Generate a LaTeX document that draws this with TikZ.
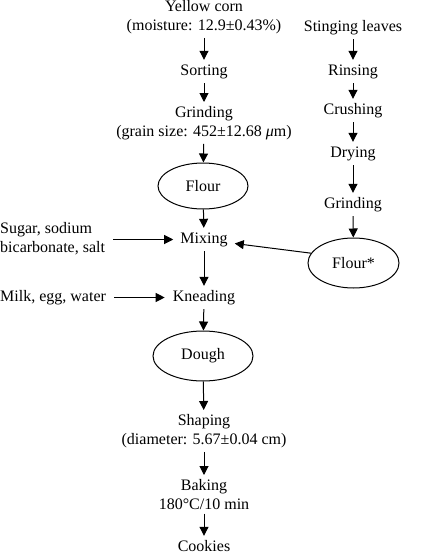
\documentclass[tikz,border=0pt]{standalone}
\usepackage{fontspec}
\setmainfont{Liberation Serif}
\usetikzlibrary{arrows.meta,shapes.geometric}
\begin{document}
\begin{tikzpicture}[x=1pt,y=-1pt,font=\fontsize{16}{19}\selectfont,
  txt/.style={inner sep=0pt,text height=11pt,text depth=4pt},
  txtb/.style={inner sep=0pt,align=center},
  oval/.style={draw,ellipse,line width=1pt,inner sep=0pt},
  arr/.style={-{Triangle[length=9pt,width=9pt]},line width=1pt,shorten <=4pt,shorten >=4pt},
  toov/.style={arr,shorten >=0pt},
  fromov/.style={arr,shorten <=0pt}]
\useasboundingbox (0,0) rectangle (422,554);
% main column
\node[txtb,anchor=north] (corn) at (204,0) {Yellow corn\\(moisture: 12.9±0.43\%)};
\node[txt,anchor=base] (sort) at (204,75) {Sorting};
\node[txtb,anchor=north] (grind) at (204,106) {Grinding\\(grain size: 452±12.68 {\itshape μ}m)};
\node[oval,minimum width=90pt,minimum height=46pt] (flour) at (203,186) {Flour};
\node[txt,anchor=base] (mix) at (204,243) {Mixing};
\node[txtb,align=left,anchor=north west] (sugar) at (0,222) {Sugar, sodium\\bicarbonate, salt};
\node[txt,anchor=base west] (milk) at (0,301) {Milk, egg, water};
\node[txt,anchor=base] (knead) at (204,301) {Kneading};
\node[oval,minimum width=100pt,minimum height=50pt] (dough) at (203,356) {Dough};
\node[txtb,anchor=north] (shape) at (204,414) {Shaping\\(diameter: 5.67±0.04 cm)};
\node[txtb,anchor=north] (bake) at (204,479) {Baking\\180°C/10 min};
\node[txt,anchor=base,text depth=0pt] (cook) at (204,551) {Cookies};
% right column
\node[txt,anchor=base] (sting) at (353,31) {Stinging leaves};
\node[txt,anchor=base] (rinse) at (353,75) {Rinsing};
\node[txt,anchor=base] (crush) at (353,114) {Crushing};
\node[txt,anchor=base] (dry) at (353,157) {Drying};
\node[txt,anchor=base] (grind2) at (353,208) {Grinding};
\node[oval,minimum width=91pt,minimum height=50pt] (flour2) at (353.5,263) {Flour*};
% connectors
\draw[arr] (corn) -- (sort);
\draw[arr] (sort) -- (grind);
\draw[toov] (grind) -- (flour);
\draw[fromov] (flour) -- (mix);
\draw[arr] (mix) -- (knead);
\draw[toov] (knead) -- (dough);
\draw[fromov] (dough) -- (shape);
\draw[arr] (shape) -- (bake);
\draw[arr] (bake) -- (cook);
\draw[arr] (sting) -- (rinse);
\draw[arr] (rinse) -- (crush);
\draw[arr] (crush) -- (dry);
\draw[arr] (dry) -- (grind2);
\draw[toov] (grind2) -- (flour2);
\draw[arr,shorten <=8pt,shorten >=7pt] (sugar.east |- mix.west) -- (mix.west);
\draw[arr,shorten <=8pt,shorten >=8pt] (milk.east) -- (knead.west);
\draw[arr,shorten <=0pt,shorten >=0pt] (flour2.167) -- ([xshift=7pt,yshift=-4pt]mix.east);
\end{tikzpicture}
\end{document}
